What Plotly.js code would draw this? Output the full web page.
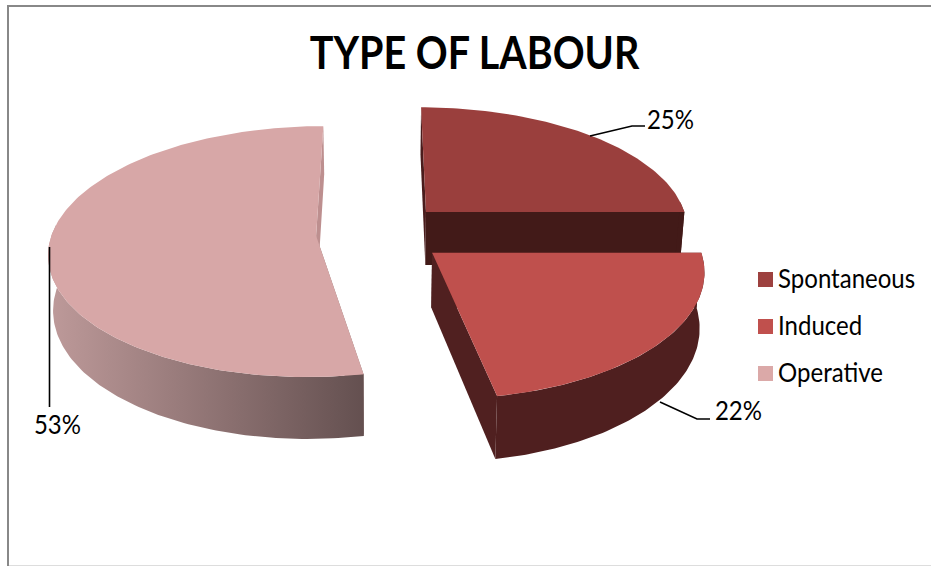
<!DOCTYPE html>
<html>
<head>
<meta charset="utf-8">
<script src="https://cdn.plot.ly/plotly-3.0.1.min.js"></script>
<style>html,body{margin:0;padding:0;background:#fff}#chart{width:931px;height:566px}</style>
</head>
<body>
<div id="chart"></div>
<script>
// Share of each type of labour, in percent
const categories = ['Spontaneous', 'Induced', 'Operative'];
const shares = [25, 22, 53];

const topColors = ['#9A3F3D', '#BF504D', '#D7A7A7'];
const swatchColors = ['#9D413F', '#C0504D', '#DBA9A8'];
const arcWallColors = ['#421A18', '#4F1F1F', '#8F7270'];
const startWallColors = ['#4A1C1C', '#4F1F1F', '#8F7270'];
const endWallColors = ['#421A18', '#502020', '#BD8F8F'];

// Perspective view of the tilted, exploded pie (screen pixels)
const view = { x0: 381, y0: 233, radius: 264, explode: 65, tilt: 0.465, persp: 0.125, depth: 54, shrink: 0.985 };

function project(X, Z) {
  const w = 1 + view.persp * Z / view.radius;
  return { x: view.x0 + X / w, y: view.y0 - view.tilt * Z / w, w };
}
function lower(p) {
  return { x: view.x0 + (p.x - view.x0) * view.shrink, y: p.y + view.depth / p.w };
}
function rad(d) { return d * Math.PI / 180; }

function sliceGeometry(startDeg, endDeg) {
  const mid = rad((startDeg + endDeg) / 2);
  const ox = view.explode * Math.sin(mid), oz = view.explode * Math.cos(mid);
  const apex = project(ox, oz);
  const arc = [], rim = [];
  const steps = Math.max(12, Math.round(endDeg - startDeg));
  for (let i = 0; i <= steps; i++) {
    const a = rad(startDeg + (endDeg - startDeg) * i / steps);
    const p = project(ox + view.radius * Math.sin(a), oz + view.radius * Math.cos(a));
    arc.push(p);
    // Only the part of the rim that faces the viewer gets a side wall
    if (Math.cos(a) < 0.1) rim.push(p);
  }
  return { apex, arc, rim };
}

function polygon(points, color, extra) {
  return Object.assign({
    type: 'scatter', mode: 'lines', x: points.map(p => p.x), y: points.map(p => p.y),
    fill: 'toself', fillcolor: color, line: { width: 0, color: color },
    hoverinfo: 'skip', showlegend: false
  }, extra || {});
}

// Slice angles accumulate clockwise from twelve o'clock
const total = shares.reduce((a, b) => a + b, 0);
let running = 0;
const slices = shares.map((v) => {
  const start = running / total * 360;
  running += v;
  return sliceGeometry(start, running / total * 360);
});

const traces = [];
// Painted back to front: Spontaneous, Operative, Induced
[0, 2, 1].forEach((i) => {
  const { apex, arc, rim } = slices[i];
  const first = arc[0], last = arc[arc.length - 1];
  traces.push(polygon([first, apex, lower(apex), lower(first)], startWallColors[i]));
  traces.push(polygon([last, apex, lower(apex), lower(last)], endWallColors[i]));
  const wall = rim.concat(rim.slice().reverse().map(lower));
  const extra = categories[i] === 'Operative'
    ? { fillgradient: { type: 'horizontal', colorscale: [[0, '#BE9A9A'], [1, '#645050']] } }
    : {};
  traces.push(polygon(wall, arcWallColors[i], extra));
  traces.push(polygon([apex].concat(arc), topColors[i]));
});

// Leader lines from the slices to their percentage labels
const leaders = [
  { x: [590, 632, 645], y: [136, 126, 126] },
  { x: [660, 697, 710], y: [402, 419, 419] },
  { x: [49.5, 49.5], y: [247, 407] }
];
leaders.forEach((l) => traces.push({
  type: 'scatter', mode: 'lines', x: l.x, y: l.y,
  line: { color: '#000', width: 1.6 }, hoverinfo: 'skip', showlegend: false
}));

const labelAnchors = [{ x: 670, y: 118 }, { x: 738, y: 409.5 }, { x: 57, y: 423.5 }];
const legendX = 765.5, legendTextX = 776, legendRows = [279.5, 326.5, 373.5];

// Legend swatches
traces.push({
  type: 'scatter', mode: 'markers', x: legendRows.map(() => legendX), y: legendRows,
  marker: { symbol: 'square', size: 15, color: swatchColors, line: { width: 0 } },
  hoverinfo: 'skip', showlegend: false
});

const font = 'Lato, sans-serif';
const annotations = [];
shares.forEach((v, i) => annotations.push({
  x: labelAnchors[i].x, y: labelAnchors[i].y, xref: 'x', yref: 'y', text: v + '%', showarrow: false,
  xanchor: 'center', yanchor: 'middle', font: { family: font, size: 27, color: '#000' }
}));
categories.forEach((c, i) => annotations.push({
  x: legendTextX, y: legendRows[i] - 2.5, xref: 'x', yref: 'y', text: c, showarrow: false,
  xanchor: 'left', yanchor: 'middle', font: { family: font, size: 27, color: '#000' }
}));

const layout = {
  width: 931, height: 566,
  margin: { l: 0, r: 0, t: 0, b: 0 },
  paper_bgcolor: '#fff', plot_bgcolor: '#fff',
  showlegend: false,
  title: {
    text: '<b>TYPE OF LABOUR</b>', x: 474.5 / 931, y: 1 - 53 / 566,
    xanchor: 'center', yanchor: 'middle',
    font: { family: font, size: 45, color: '#000' }
  },
  xaxis: { range: [0, 931], visible: false, fixedrange: true },
  yaxis: { range: [566, 0], visible: false, fixedrange: true },
  annotations,
  shapes: [
    { type: 'line', xref: 'x', yref: 'y', x0: 8, x1: 8, y0: 5, y1: 566, line: { color: '#888', width: 2 } },
    { type: 'line', xref: 'x', yref: 'y', x0: 7, x1: 931, y0: 6, y1: 6, line: { color: '#888', width: 2 } },
    { type: 'line', xref: 'x', yref: 'y', x0: 9, x1: 931, y0: 565.5, y1: 565.5, line: { color: '#DDD', width: 1 } }
  ]
};

// Narrow the type to a condensed set width, holding each text's anchor in place
function condense(el, factor, anchor) {
  const box = el.getBBox();
  const ax = anchor === 'left' ? box.x : box.x + box.width / 2;
  const prior = el.getAttribute('transform') || '';
  el.setAttribute('transform', `${prior} translate(${ax},0) scale(${factor},1) translate(${-ax},0)`);
}

Plotly.newPlot('chart', traces, layout, { displayModeBar: false, staticPlot: true }).then((gd) => {
  gd.querySelectorAll('.gtitle').forEach((t) => condense(t, 0.878, 'center'));
  gd.querySelectorAll('.annotation-text').forEach((t, i) => {
    condense(t, 0.89, i < shares.length ? 'center' : 'left');
  });
});
</script>
</body>
</html>
